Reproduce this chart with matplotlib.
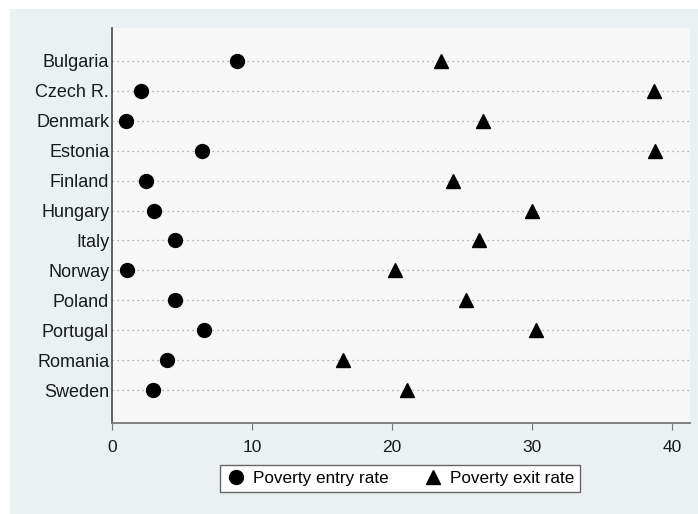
import matplotlib.pyplot as plt
from matplotlib.patches import Rectangle

plt.rcParams['font.family'] = ['Liberation Sans', 'DejaVu Sans']

# 데이터
countries = ['Bulgaria', 'Czech R.', 'Denmark', 'Estonia', 'Finland', 'Hungary',
             'Italy', 'Norway', 'Poland', 'Portugal', 'Romania', 'Sweden']
entry_rate = [8.9, 2.1, 1.0, 6.4, 2.4, 3.0, 4.5, 1.1, 4.5, 6.6, 3.9, 2.9]
exit_rate = [23.5, 38.7, 26.5, 38.8, 24.4, 30.0, 26.2, 20.2, 25.3, 30.3, 16.5, 21.1]
xticks = [0, 10, 20, 30, 40]

fig = plt.figure(figsize=(6.98, 5.14), dpi=100, facecolor='white')
# 바깥 배경
fig.patches.append(Rectangle((10 / 698, 0), 1 - 10 / 698, 1 - 9 / 514,
                             transform=fig.transFigure, facecolor='#eaf1f2',
                             edgecolor='none', zorder=-10))

ax = fig.add_axes([112 / 698, 1 - 423 / 514, 578 / 698, 395 / 514])
ax.set_facecolor('#f7f7f7')

ypos = list(range(len(countries)))
for y in ypos:
    ax.axhline(y, color='#9a9a9a', linestyle=(0, (1, 3)), linewidth=0.9, zorder=1)

ax.plot(entry_rate, ypos, 'o', color='black', markersize=10,
        label='Poverty entry rate', zorder=3)
ax.plot(exit_rate, ypos, '^', color='black', markersize=10,
        label='Poverty exit rate', zorder=3)

ax.set_xlim(0, 41.3)
ax.set_ylim(len(countries) - 1 + 1.1, -1.1)
ax.set_xticks(xticks)
ax.set_yticks(ypos)
ax.set_yticklabels(countries)
ax.tick_params(axis='y', length=0, pad=2, labelsize=13, labelcolor='#1a1a1a')
ax.tick_params(axis='x', length=5, color='#777777', pad=7, labelsize=12.5,
               labelcolor='#1a1a1a')

for s in ['top', 'right']:
    ax.spines[s].set_visible(False)
ax.spines['left'].set_color('#555555')
ax.spines['left'].set_linewidth(1.3)
ax.spines['bottom'].set_color('#777777')
ax.spines['bottom'].set_linewidth(1.3)

leg = fig.legend(loc='center', bbox_to_anchor=(400 / 698, 1 - 478.5 / 514),
                 ncol=2, fontsize=12.3, frameon=True, fancybox=False,
                 edgecolor='#666666', facecolor='white', framealpha=1,
                 handletextpad=0.4, columnspacing=2.0, handlelength=1.2,
                 borderpad=0.35)
leg.get_frame().set_linewidth(1.0)

fig.savefig('out.png', dpi=100, facecolor=fig.get_facecolor())
